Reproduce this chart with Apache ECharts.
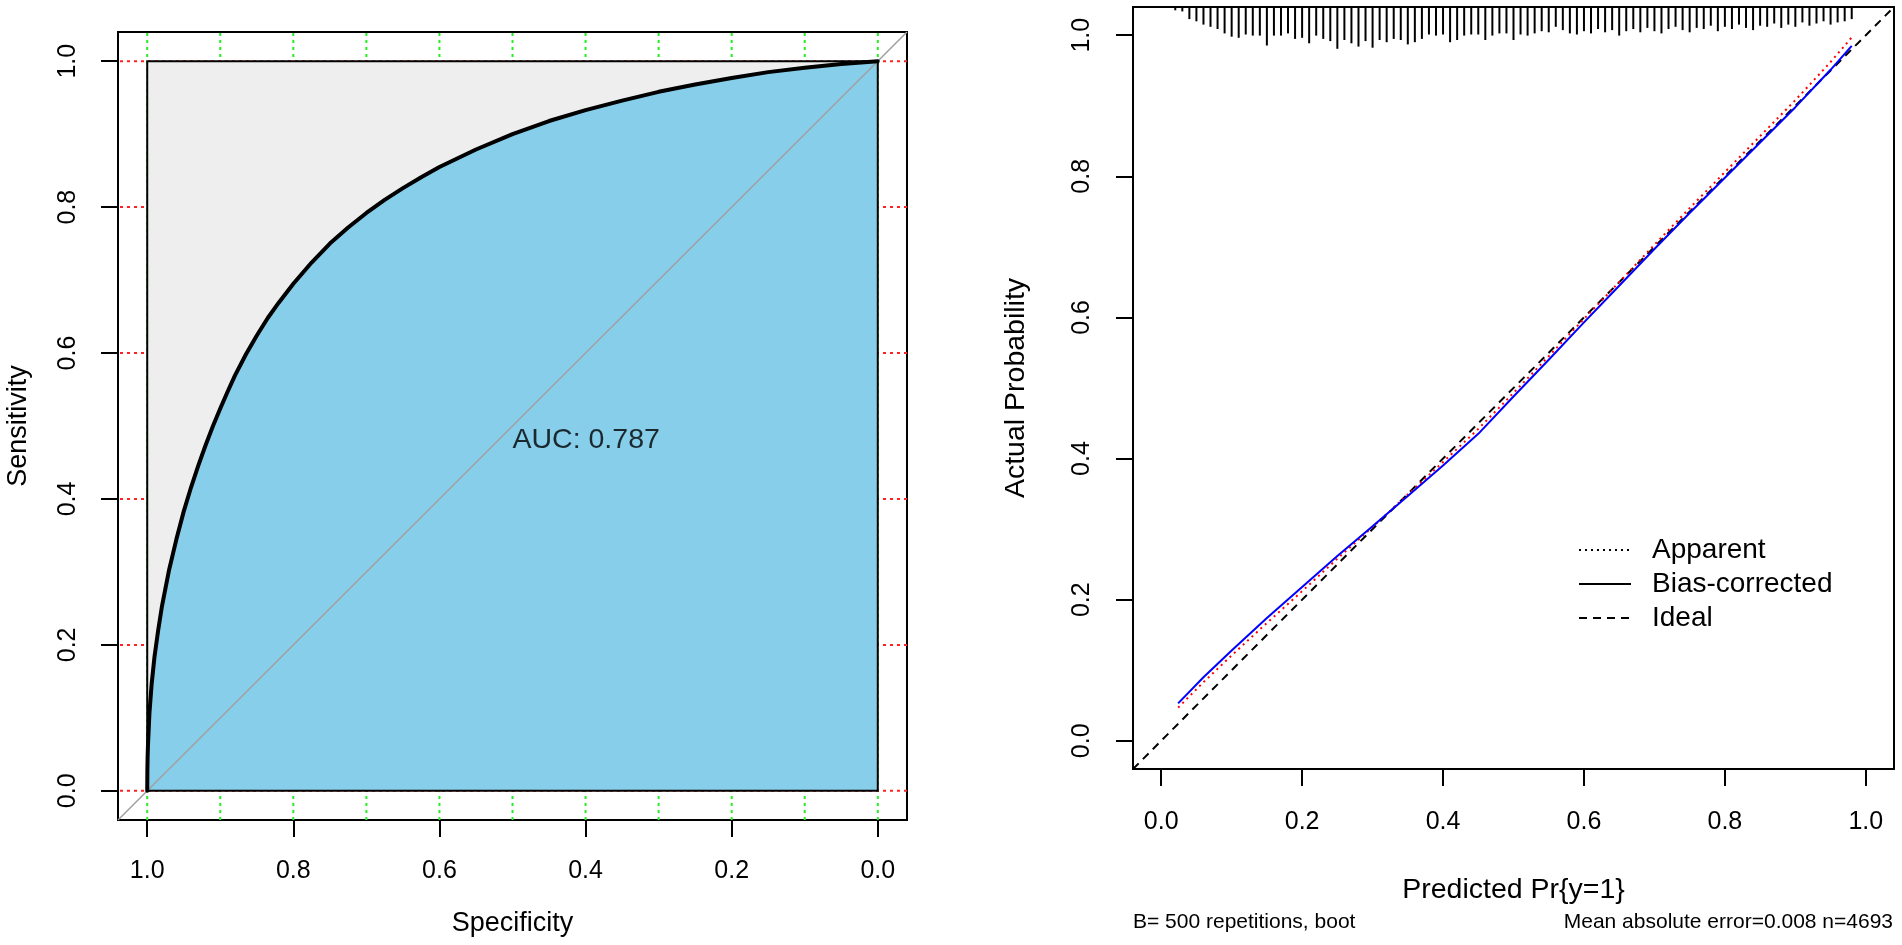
<!DOCTYPE html>
<html lang="en">
<head>
    <meta charset="UTF-8">
    <script src="https://cdn.jsdelivr.net/npm/echarts@6.0.0/dist/echarts.min.js"></script>
    <style>
        body {margin:0; background:#fff;}
        #box {width:1902px; height:945px;}
    </style>
    <title>ROC and calibration</title>
    <script>
        // ROC curve (smoothed)
        const rocSpec = [1, 0.9998, 0.9995, 0.999, 0.997, 0.994, 0.99, 0.985, 0.98, 0.97,
            0.96, 0.95, 0.94, 0.93, 0.92, 0.91, 0.90, 0.89, 0.88, 0.865,
            0.85, 0.835, 0.82, 0.8, 0.775, 0.75, 0.725, 0.7, 0.675, 0.65,
            0.625, 0.6, 0.55, 0.5, 0.45, 0.4, 0.35, 0.3, 0.25, 0.2,
            0.15, 0.1, 0.05, 0]
        const rocSens = [0, 0.028, 0.045, 0.062, 0.106, 0.146, 0.184, 0.220, 0.252, 0.303,
            0.345, 0.383, 0.416, 0.446, 0.474, 0.500, 0.524, 0.547, 0.569, 0.598,
            0.624, 0.648, 0.669, 0.695, 0.724, 0.750, 0.772, 0.792, 0.810, 0.826,
            0.841, 0.855, 0.879, 0.900, 0.918, 0.933, 0.946, 0.958, 0.968, 0.977,
            0.985, 0.991, 0.996, 1]
        const aucText = 'AUC: 0.787'

        // calibration curves, right panel
        const calX      = [0.024, 0.06, 0.1, 0.15, 0.2, 0.25, 0.3, 0.35, 0.4, 0.45, 0.5, 0.55, 0.6, 0.65, 0.7, 0.75, 0.8, 0.85, 0.9, 0.95, 0.98]
        const biasY     = [0.053, 0.09, 0.128, 0.174, 0.218, 0.262, 0.304, 0.347, 0.39, 0.435, 0.488, 0.54, 0.593, 0.645, 0.697, 0.748, 0.798, 0.848, 0.898, 0.951, 0.985]
        const apparentY = [0.047, 0.083, 0.121, 0.167, 0.212, 0.258, 0.303, 0.349, 0.395, 0.442, 0.493, 0.545, 0.598, 0.65, 0.703, 0.755, 0.806, 0.857, 0.908, 0.962, 0.997]

        // rug of predicted probabilities along the top
        const rugX = [0.02,0.03,0.04,0.05,0.06,0.07,0.08,0.09,0.10,0.11,0.12,0.13,0.14,0.15,0.16,0.17,0.18,0.19,0.20,0.21,
            0.22,0.23,0.24,0.25,0.26,0.27,0.28,0.29,0.30,0.31,0.32,0.33,0.34,0.35,0.36,0.37,0.38,0.39,0.40,0.41,
            0.42,0.43,0.44,0.45,0.46,0.47,0.48,0.49,0.50,0.51,0.52,0.53,0.54,0.55,0.56,0.57,0.58,0.59,0.60,0.61,
            0.62,0.63,0.64,0.65,0.66,0.67,0.68,0.69,0.70,0.71,0.72,0.73,0.74,0.75,0.76,0.77,0.78,0.79,0.80,0.81,
            0.82,0.83,0.84,0.85,0.86,0.87,0.88,0.89,0.90,0.91,0.92,0.93,0.94,0.95,0.96,0.97,0.98]
        const rugCount = [3,4,11,13,16,18,20,24,27,28,25,26,26,35,26,26,24,29,28,33,
            26,29,31,38,30,33,36,31,37,30,32,29,30,34,32,29,25,26,25,32,
            30,26,25,25,30,26,24,24,30,25,26,24,22,23,18,21,24,25,22,24,
            20,23,21,26,22,20,23,19,22,24,20,18,21,23,19,20,17,22,18,20,
            16,19,21,17,18,15,19,16,18,14,17,15,13,16,14,13,11]

        const tickVals = [0, 0.2, 0.4, 0.6, 0.8, 1.0]
        const gridX = [0, 0.1, 0.2, 0.3, 0.4, 0.5, 0.6, 0.7, 0.8, 0.9, 1.0]
        const gridY = [0, 0.2, 0.4, 0.6, 0.8, 1.0]
        const legendNames = ['Apparent', 'Bias-corrected', 'Ideal']
        const footLeft = 'B= 500 repetitions, boot'
        const footRight = 'Mean absolute error=0.008 n=4693'

        const lo = -0.04, hi = 1.04
        const FONT = 'Liberation Sans, Arial, sans-serif'

        window.onload = function () {
            let chart = echarts.init(document.getElementById('box'))

            function axisCommon(name, gap, margin, rotate, nameSize) {
                return {
                    type: 'value', min: lo, max: hi,
                    axisLine: {show: false, onZero: false},
                    splitLine: {show: false},
                    axisTick: {show: true, customValues: tickVals, length: 17, lineStyle: {color: '#000', width: 2}},
                    axisLabel: {customValues: tickVals, margin: margin, rotate: rotate, fontSize: 25, color: '#000',
                        fontFamily: FONT, formatter: v => v.toFixed(1)},
                    name: name, nameLocation: 'middle', nameGap: gap,
                    nameTextStyle: {fontSize: nameSize, color: '#000', fontFamily: FONT}
                }
            }

            // dotted reference lines of the ROC panel
            function vLine(params, api) {
                let v = api.value(0)
                let a = api.coord([v, lo]), b = api.coord([v, hi])
                return {type: 'line', shape: {x1: a[0], y1: a[1], x2: b[0], y2: b[1]},
                    style: {stroke: '#22EE22', lineWidth: 2, lineDash: [3, 4]}}
            }
            function hLine(params, api) {
                let v = api.value(1)
                let a = api.coord([lo, v]), b = api.coord([hi, v])
                return {type: 'line', shape: {x1: a[0], y1: a[1], x2: b[0], y2: b[1]},
                    style: {stroke: '#FF2222', lineWidth: 2, lineDash: [3, 4]}}
            }
            function aucArea(params, api) {
                let sq = [[1, 0], [1, 1], [0, 1], [0, 0]].map(p => api.coord(p))
                let poly = rocSpec.map((s, i) => api.coord([s, rocSens[i]]))
                poly.push(api.coord([0, 0]))
                return {type: 'group', children: [
                    {type: 'polygon', shape: {points: sq}, style: {fill: '#EEEEEE'}},
                    {type: 'polygon', shape: {points: poly}, style: {fill: '#87CEEB'}},
                    {type: 'polygon', shape: {points: sq}, style: {fill: 'none', stroke: '#000', lineWidth: 2}}
                ]}
            }
            function rug(params, api) {
                let p = api.coord([api.value(0), hi])
                let len = api.value(1) * 1.1
                return {type: 'line', shape: {x1: p[0], y1: p[1], x2: p[0], y2: p[1] + len},
                    style: {stroke: '#000', lineWidth: 2}}
            }

            let options = {
                animation: false,
                grid: [
                    {left: 118, top: 32, width: 789, height: 788, show: true, borderColor: '#000', borderWidth: 2,
                        containLabel: false, outerBoundsMode: 'none'},
                    {left: 1133, top: 7, width: 761, height: 762, show: true, borderColor: '#000', borderWidth: 2,
                        containLabel: false, outerBoundsMode: 'none'}
                ],
                xAxis: [
                    Object.assign(axisCommon('Specificity', 90, 39, 0, 27), {gridIndex: 0, inverse: true}),
                    Object.assign(axisCommon('Predicted Pr{y=1}', 107, 41, 0, 28.5), {gridIndex: 1})
                ],
                yAxis: [
                    Object.assign(axisCommon('Sensitivity', 86, 37, 90, 27), {gridIndex: 0}),
                    Object.assign(axisCommon('Actual Probability', 102, 38, 90, 28.5), {gridIndex: 1})
                ],
                legend: {
                    data: legendNames, orient: 'vertical', left: 1573, top: 531,
                    itemWidth: 52, itemHeight: 14, itemGap: 6, selectedMode: false,
                    lineStyle: {color: '#000'},
                    itemStyle: {opacity: 0},
                    textStyle: {fontSize: 28, lineHeight: 28, color: '#000', fontFamily: FONT, padding: [0, 0, 0, 16]}
                },
                graphic: [
                    {type: 'text', left: 1133, top: 912, style: {text: footLeft, font: '21px ' + FONT, fill: '#000'}},
                    {type: 'text', right: 9, top: 912, style: {text: footRight, font: '21px ' + FONT, fill: '#000'}}
                ],
                series: [
                    {type: 'custom', xAxisIndex: 0, yAxisIndex: 0, z: 1, silent: true,
                        data: gridX.map(v => [v, 0]), renderItem: vLine},
                    {type: 'custom', xAxisIndex: 0, yAxisIndex: 0, z: 1, silent: true,
                        data: gridY.map(v => [0, v]), renderItem: hLine},
                    {type: 'custom', xAxisIndex: 0, yAxisIndex: 0, z: 2, silent: true,
                        data: [[0.5, 0.5]], renderItem: aucArea},
                    {type: 'line', xAxisIndex: 0, yAxisIndex: 0, z: 3, symbol: 'none', silent: true,
                        data: [[hi, lo], [lo, hi]], lineStyle: {color: '#A0A0A0', width: 1.5}},
                    {type: 'line', xAxisIndex: 0, yAxisIndex: 0, z: 4, symbol: 'none', silent: true,
                        data: rocSpec.map((s, i) => [s, rocSens[i]]),
                        lineStyle: {color: '#000', width: 4, join: 'round', cap: 'round'}},
                    {type: 'scatter', xAxisIndex: 0, yAxisIndex: 0, z: 5, symbolSize: 0, silent: true,
                        data: [[0.5, 0.5]],
                        label: {show: true, position: [0, 0], align: 'left', verticalAlign: 'top',
                            formatter: aucText, fontSize: 28.5, color: '#000', fontFamily: FONT}},

                    {type: 'custom', xAxisIndex: 1, yAxisIndex: 1, z: 2, silent: true,
                        data: rugX.map((x, i) => [x, rugCount[i]]), encode: {x: 0}, renderItem: rug},
                    {name: 'Apparent', type: 'line', xAxisIndex: 1, yAxisIndex: 1, z: 3, symbol: 'none',
                        data: calX.map((x, i) => [x, apparentY[i]]),
                        lineStyle: {color: '#FF0000', width: 2, type: [2, 4]}, itemStyle: {color: '#FF0000'}},
                    {name: 'Bias-corrected', type: 'line', xAxisIndex: 1, yAxisIndex: 1, z: 4, symbol: 'none',
                        data: calX.map((x, i) => [x, biasY[i]]),
                        lineStyle: {color: '#0000FF', width: 2}, itemStyle: {color: '#0000FF'}},
                    {name: 'Ideal', type: 'line', xAxisIndex: 1, yAxisIndex: 1, z: 2, symbol: 'none',
                        data: [[lo, lo], [hi, hi]],
                        lineStyle: {color: '#000', width: 2, type: [8, 6]}, itemStyle: {color: '#000'}}
                ]
            }
            chart.setOption(options)
        }
    </script>
</head>
<body>
    <div id="box"></div>
</body>
</html>
